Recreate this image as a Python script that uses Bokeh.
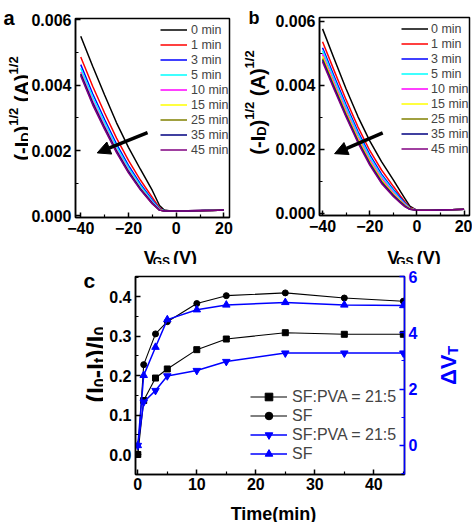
import math
from bokeh.plotting import figure
from bokeh.layouts import column, row
from bokeh.core.properties import value
from bokeh.models import (Range1d, LinearAxis, FixedTicker, PrintfTickFormatter,
                          Legend, LegendItem, Arrow, NormalHead)
from bokeh.embed import file_html
from bokeh.resources import INLINE

FONT = "Liberation Sans"

# ---------------- data ----------------
vgs = [-40, -35, -30, -25, -20, -15, -10, -7, -5, -3, 0, 5, 10, 15, 20]
times_ab = ["0 min", "1 min", "3 min", "5 min", "10 min", "15 min", "25 min", "35 min", "45 min"]

a_0 = [0.00550, 0.00458, 0.00370, 0.00285, 0.00210, 0.00143, 0.00078, 0.00032, 0.00018, 0.00016, 0.00016, 0.00016, 0.00017, 0.00018, 0.00019]
a_1 = [0.00486, 0.00397, 0.00315, 0.00238, 0.00170, 0.00110, 0.00057, 0.00025, 0.00016, 0.00015, 0.00015, 0.00016, 0.00017, 0.00018, 0.00019]
a_3 = [0.00463, 0.00374, 0.00295, 0.00220, 0.00155, 0.00098, 0.00049, 0.00022, 0.00016, 0.00015, 0.00015, 0.00016, 0.00017, 0.00018, 0.00019]
a_5 = [0.00452, 0.00364, 0.00286, 0.00212, 0.00148, 0.00093, 0.00045, 0.00021, 0.00016, 0.00015, 0.00015, 0.00015, 0.00016, 0.00017, 0.00018]
a_10 = [0.00440, 0.00352, 0.00276, 0.00203, 0.00140, 0.00086, 0.00041, 0.00019, 0.00015, 0.00015, 0.00015, 0.00015, 0.00016, 0.00017, 0.00018]
a_15 = [0.00436, 0.00347, 0.00271, 0.00199, 0.00137, 0.00084, 0.00039, 0.00019, 0.00015, 0.00015, 0.00015, 0.00015, 0.00016, 0.00017, 0.00018]
a_25 = [0.00432, 0.00344, 0.00268, 0.00197, 0.00134, 0.00082, 0.00038, 0.00018, 0.00015, 0.00015, 0.00015, 0.00015, 0.00016, 0.00017, 0.00018]
a_35 = [0.00434, 0.00346, 0.00270, 0.00198, 0.00136, 0.00083, 0.00039, 0.00018, 0.00015, 0.00015, 0.00015, 0.00015, 0.00016, 0.00017, 0.00018]
a_45 = [0.00428, 0.00340, 0.00265, 0.00194, 0.00132, 0.00080, 0.00037, 0.00018, 0.00015, 0.00015, 0.00015, 0.00015, 0.00016, 0.00017, 0.00018]

b_0 = [0.00576, 0.00481, 0.00388, 0.00302, 0.00226, 0.00161, 0.00104, 0.00068, 0.00045, 0.00022, 0.00009, 0.00009, 0.00010, 0.00011, 0.00012]
b_1 = [0.00536, 0.00444, 0.00354, 0.00270, 0.00196, 0.00135, 0.00084, 0.00054, 0.00035, 0.00018, 0.00009, 0.00009, 0.00010, 0.00011, 0.00012]
b_3 = [0.00517, 0.00426, 0.00338, 0.00255, 0.00183, 0.00122, 0.00074, 0.00048, 0.00031, 0.00016, 0.00009, 0.00009, 0.00010, 0.00011, 0.00012]
b_5 = [0.00508, 0.00418, 0.00330, 0.00248, 0.00176, 0.00116, 0.00070, 0.00044, 0.00029, 0.00015, 0.00009, 0.00009, 0.00010, 0.00011, 0.00012]
b_10 = [0.00497, 0.00407, 0.00320, 0.00239, 0.00167, 0.00109, 0.00064, 0.00040, 0.00026, 0.00014, 0.00009, 0.00009, 0.00010, 0.00011, 0.00012]
b_15 = [0.00490, 0.00400, 0.00314, 0.00233, 0.00162, 0.00104, 0.00060, 0.00038, 0.00024, 0.00014, 0.00009, 0.00009, 0.00010, 0.00011, 0.00012]
b_25 = [0.00483, 0.00395, 0.00309, 0.00228, 0.00158, 0.00100, 0.00057, 0.00036, 0.00023, 0.00013, 0.00009, 0.00009, 0.00010, 0.00011, 0.00012]
b_35 = [0.00478, 0.00390, 0.00304, 0.00224, 0.00154, 0.00096, 0.00055, 0.00034, 0.00021, 0.00012, 0.00009, 0.00009, 0.00010, 0.00011, 0.00012]
b_45 = [0.00473, 0.00385, 0.00300, 0.00220, 0.00150, 0.00093, 0.00052, 0.00032, 0.00020, 0.00012, 0.00009, 0.00009, 0.00010, 0.00011, 0.00012]

time_c = [0, 1, 3, 5, 10, 15, 25, 35, 45]
ratio_sfpva = [0.0, 0.137, 0.194, 0.217, 0.266, 0.293, 0.309, 0.305, 0.305]
ratio_sf = [0.0, 0.228, 0.306, 0.337, 0.383, 0.403, 0.410, 0.397, 0.389]
dvt_sfpva = [0.0, 1.54, 1.95, 2.47, 2.66, 2.98, 3.28, 3.28, 3.28]
dvt_sf = [0.0, 2.49, 3.49, 4.47, 4.82, 4.99, 5.08, 4.99, 4.97]
legend_c = ["SF:PVA = 21:5", "SF", "SF:PVA = 21:5", "SF"]

# arrows (start -> end) in data units
arrow_a = (-12.0, 0.00255, -33.1, 0.00193)
arrow_b = (-14.5, 0.00251, -34.9, 0.00186)

# ---------------- styling ----------------
curve_colors = ["#000000", "#FF0000", "#0000FF", "#00FFFF", "#FF00FF", "#FFFF00", "#808000", "#000080", "#800080"]
BLUE = "#0000FF"

W_BOLD = {' ': .278, '(': .333, ')': .333, '-': .333, '/': .278, '.': .278, ':': .333, '=': .584,
          'A': .722, 'D': .722, 'F': .611, 'G': .778, 'I': .278, 'P': .667, 'S': .667, 'T': .611,
          'V': .667, 'e': .556, 'i': .278, 'm': .889, 'n': .611, 't': .333, '\u0394': .70}
for _d in "0123456789":
    W_BOLD[_d] = .556


def tw(s, size):
    return sum(W_BOLD.get(c, .6) for c in s) * size


def put_text(p, text, x, y, size, color="black", angle=0.0):
    p.text(x=[x], y=[y], text=[text], angle=angle, text_font=value(FONT),
           text_font_style="bold", text_font_size=value(f"{size}px"), text_color=color,
           text_align="left", text_baseline="alphabetic")


def rich(p, segs, cx, cy, color="black", rotate=False):
    """segs: (text, size, baseline shift). Horizontal: cx = center, cy = baseline.
    Rotated: cx = baseline, cy = center along the reading direction."""
    total = sum(tw(t, s) for t, s, _ in segs)
    cur = -total / 2
    for text, size, dy in segs:
        lead = len(text) - len(text.lstrip(" "))
        cur += tw(" " * lead, size)
        body = text.lstrip(" ")
        if rotate:
            put_text(p, body, cx - dy, cy + cur, size, color, angle=math.pi / 2)
        else:
            put_text(p, body, cx + cur, cy + dy, size, color)
        cur += tw(body, size)


def text_fig(w, h):
    f = figure(width=w, height=h, x_range=Range1d(0, w), y_range=Range1d(0, h),
               output_backend="svg", toolbar_location=None, title=None,
               min_border=0, min_border_left=0, min_border_right=0,
               min_border_top=0, min_border_bottom=0,
               x_axis_location=None, y_axis_location=None)
    f.grid.visible = False
    f.outline_line_color = None
    f.background_fill_color = "white"
    f.border_fill_color = "white"
    return f


def style_axis(ax, color="black", standoff=5):
    ax.axis_line_color = color
    ax.axis_line_width = 1.5
    ax.major_tick_line_color = color
    ax.minor_tick_line_color = color
    ax.major_tick_line_width = 1.5
    ax.minor_tick_line_width = 1.2
    ax.major_tick_in = 5
    ax.major_tick_out = 0
    ax.minor_tick_in = 3
    ax.minor_tick_out = 0
    ax.major_label_text_font = FONT
    ax.major_label_text_font_style = "bold"
    ax.major_label_text_font_size = "16px"
    ax.major_label_text_color = color
    ax.major_label_standoff = standoff


def base_fig(w, h, xr, yr, bl, br, bt, bb, xstand=4):
    p = figure(width=w, height=h, x_range=Range1d(*xr), y_range=Range1d(*yr),
               output_backend="svg", toolbar_location=None, title=None,
               min_border_left=bl, min_border_right=br, min_border_top=bt, min_border_bottom=bb)
    p.grid.visible = False
    p.outline_line_color = "black"
    p.outline_line_width = 1.5
    p.background_fill_color = "white"
    p.border_fill_color = "white"
    style_axis(p.xaxis[0], standoff=xstand)
    style_axis(p.yaxis[0], standoff=4)
    return p


def transfer_panel(series, w, h, xr, yr, bl, br, bt, bb, leg_loc, leg_glyph_w, leg_standoff, arrow):
    p = base_fig(w, h, xr, yr, bl, br, bt, bb)
    p.xaxis.ticker = FixedTicker(ticks=[-40, -20, 0, 20], minor_ticks=[-30, -10, 10])
    p.yaxis.ticker = FixedTicker(ticks=[0, 0.002, 0.004, 0.006], minor_ticks=[0.001, 0.003, 0.005])
    p.yaxis.formatter = PrintfTickFormatter(format="%.3f")
    items = []
    for lab, col, ys in zip(times_ab, curve_colors, series):
        r = p.line(vgs, ys, line_color=col, line_width=1.5)
        items.append(LegendItem(label=lab, renderers=[r]))
    leg = Legend(items=items, location=leg_loc, orientation="vertical",
                 glyph_width=leg_glyph_w, glyph_height=15, label_height=15, spacing=0,
                 padding=0, margin=0, background_fill_alpha=0, border_line_alpha=0,
                 label_text_font=FONT, label_text_font_size="12.5px", label_standoff=leg_standoff)
    p.add_layout(leg)
    xs, ys_, xe, ye = arrow
    p.add_layout(Arrow(x_start=xs, y_start=ys_, x_end=xe, y_end=ye, line_width=3.5,
                       line_color="black",
                       end=NormalHead(size=13, fill_color="black", line_color="black", line_width=1)))
    return p


YLAB_AB = [("(-I", 20, 0), ("D", 13, -4), (")", 20, 0), ("1/2", 13, 8),
           (" (A)", 20, 0), ("1/2", 13, 8)]
XLAB_AB = [("V", 18, 0), ("GS", 12, -4), ("  (V)", 18, 0)]

# ---------------- panel a ----------------
la = text_fig(28, 264)
put_text(la, "a", 3, 247, 20)
rich(la, YLAB_AB, 21, 156, rotate=True)

pa = transfer_panel([a_0, a_1, a_3, a_5, a_10, a_15, a_25, a_35, a_45],
                    208, 240, (-42.2, 22.35), (-0.000046, 0.00604), 45, 7, 18, 23,
                    (85, 60), 27, 4, arrow_a)
sa = text_fig(208, 24)
rich(sa, XLAB_AB, 124, 7)

# ---------------- panel b ----------------
lb = text_fig(36, 264)
put_text(lb, "b", 12, 247, 18)
rich(lb, YLAB_AB, 21, 162, rotate=True)

pb = transfer_panel([b_0, b_1, b_3, b_5, b_10, b_15, b_25, b_35, b_45],
                    200, 240, (-41.3, 22.3), (-0.000072, 0.006116), 45, 3, 17, 25,
                    (82, 59), 27, 3, arrow_b)
sb = text_fig(200, 24)
rich(sb, XLAB_AB, 122, 7)

# ---------------- panel c ----------------
lc = text_fig(103, 258)
put_text(lc, "c", 83, 242, 21)
rich(lc, [("(I", 25, 0), ("0", 16, -4), ("-I", 25, 0), ("t", 16, -4), (")/I", 25, 0), ("0", 16, -4)],
     95, 158, rotate=True)

pc = base_fig(325, 232, (-0.39, 45.2), (-0.0507, 0.4516), 32, 24, 12, 22, xstand=3)
pc.extra_y_ranges = {"dvt": Range1d(-1.03, 6.0)}
pc.xaxis.ticker = FixedTicker(ticks=[0, 10, 20, 30, 40], minor_ticks=[5, 15, 25, 35, 45])
pc.yaxis.ticker = FixedTicker(ticks=[0.0, 0.1, 0.2, 0.3, 0.4], minor_ticks=[-0.05, 0.05, 0.15, 0.25, 0.35, 0.45])
pc.yaxis.formatter = PrintfTickFormatter(format="%.1f")
rax = LinearAxis(y_range_name="dvt")
style_axis(rax, BLUE, standoff=4)
rax.ticker = FixedTicker(ticks=[0, 2, 4, 6], minor_ticks=[-1, 1, 3, 5])
pc.add_layout(rax, "right")

l1 = pc.line(time_c, ratio_sfpva, line_color="black", line_width=1.1)
m1 = pc.scatter(time_c, ratio_sfpva, marker="square", size=6, color="black")
l2 = pc.line(time_c, ratio_sf, line_color="black", line_width=1.1)
m2 = pc.scatter(time_c, ratio_sf, marker="circle", size=6, color="black")
l3 = pc.line(time_c, dvt_sfpva, line_color=BLUE, line_width=1.5, y_range_name="dvt")
m3 = pc.scatter(time_c, dvt_sfpva, marker="inverted_triangle", size=7.5, color=BLUE, y_range_name="dvt")
l4 = pc.line(time_c, dvt_sf, line_color=BLUE, line_width=1.5, y_range_name="dvt")
m4 = pc.scatter(time_c, dvt_sf, marker="triangle", size=7.5, color=BLUE, y_range_name="dvt")

leg_c = Legend(items=[LegendItem(label=legend_c[0], renderers=[l1, m1]),
                      LegendItem(label=legend_c[1], renderers=[l2, m2]),
                      LegendItem(label=legend_c[2], renderers=[l3, m3]),
                      LegendItem(label=legend_c[3], renderers=[l4, m4])],
               location=(115, 11), orientation="vertical", glyph_width=37, glyph_height=19,
               label_height=19, spacing=0, padding=0, margin=0, background_fill_alpha=0,
               border_line_alpha=0, label_text_font=FONT, label_text_font_size="16px",
               label_standoff=5)
pc.add_layout(leg_c)

sc = text_fig(325, 26)
rich(sc, [("Time(min)", 18, 0)], 158, 9)

rc = text_fig(44, 258)
rich(rc, [("\u0394V", 22, 0), ("T", 15, -4)], 20, 157, color=BLUE, rotate=True)

top = row(la, column(pa, sa), lb, column(pb, sb))
bottom = row(lc, column(pc, sc), rc)
layout = column(top, bottom)
open("out.html", "w").write(file_html(layout, INLINE))
